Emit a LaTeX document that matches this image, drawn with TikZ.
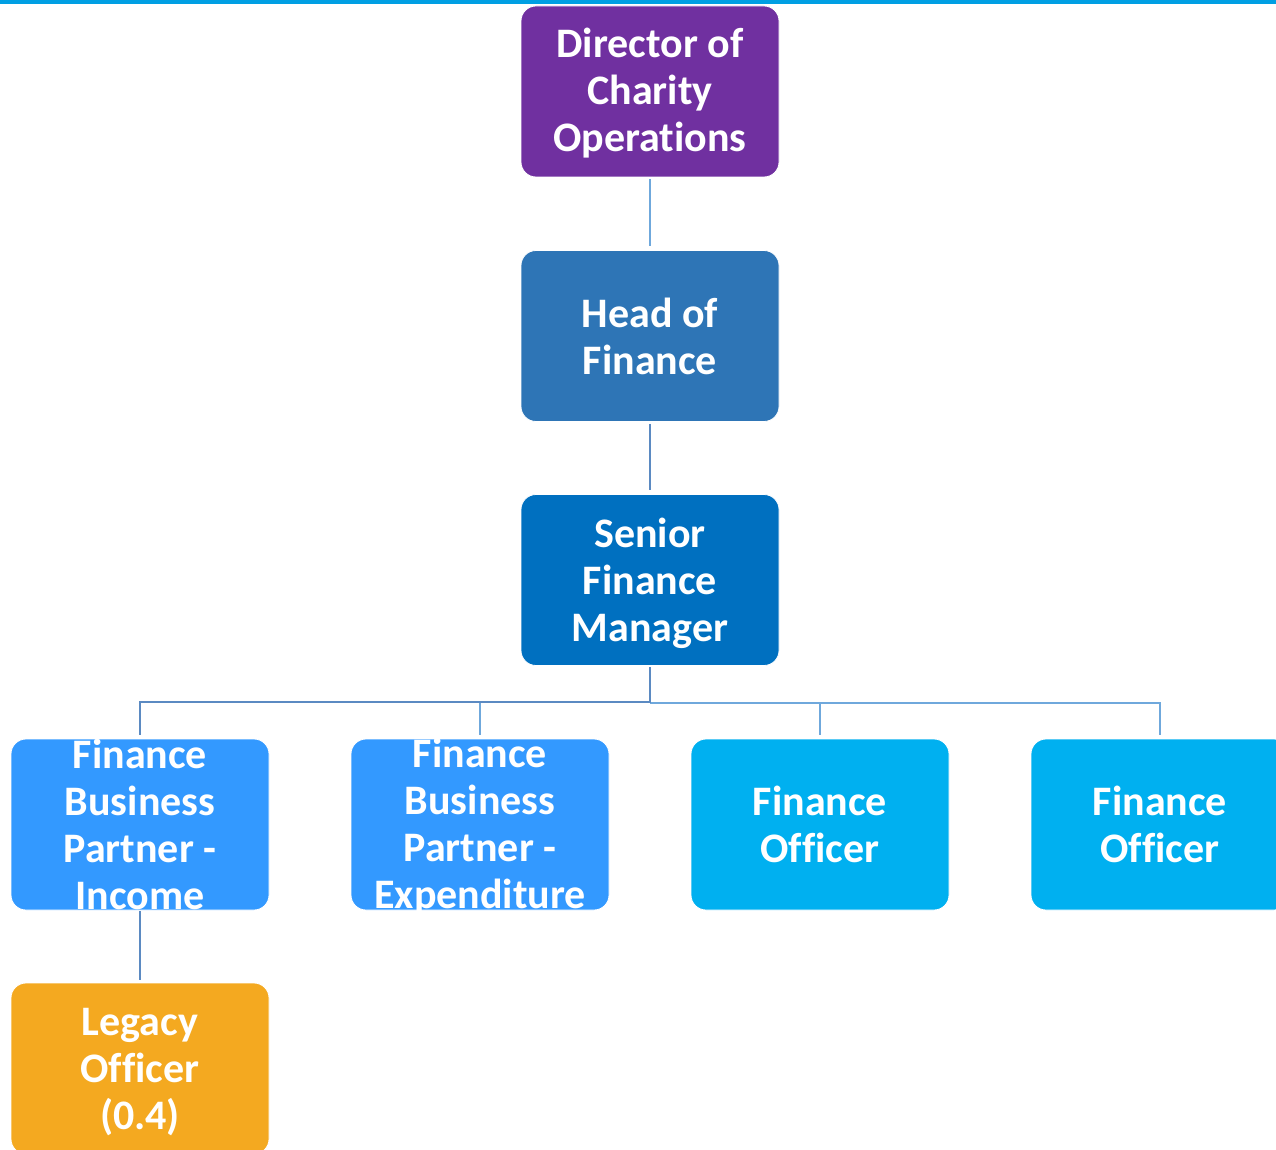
\documentclass[tikz,border=0pt]{standalone}
\usepackage{fontspec}
\setmainfont[Ligatures=NoCommon]{Carlito}
\definecolor{topline}{HTML}{009FE3}
\definecolor{cdir}{HTML}{7030A0}
\definecolor{chead}{HTML}{2E75B6}
\definecolor{csenior}{HTML}{0070C0}
\definecolor{cfbp}{HTML}{3399FF}
\definecolor{cfo}{HTML}{00B0F0}
\definecolor{clegacy}{HTML}{F4A920}
\definecolor{linedark}{HTML}{5B8AC2}
\definecolor{linelight}{HTML}{6FA8DC}
\begin{document}
\begin{tikzpicture}[x=1pt,y=-1pt,
  orgbox/.style={draw=white, line width=0.8pt, rounded corners=15pt, minimum width=258pt, minimum height=171pt, inner sep=0pt},
  orgtext/.style={text=white, font=\bfseries\fontsize{42}{47}\selectfont, align=center, inner sep=0pt},
  darkline/.style={draw=linedark, line width=2.2pt},
  lightline/.style={draw=linelight, line width=1.3pt}]
\useasboundingbox (0,0) rectangle (1276,1150);
\clip (0,0) rectangle (1276,1150);
\fill[topline] (0,0) rectangle (1276,4);
% boxes
\node[orgbox, fill=cdir] (dir) at (650,91.5) {};
\node[orgbox, fill=chead] (head) at (650,336) {};
\node[orgbox, fill=csenior] (senior) at (650,580) {};
\node[orgbox, fill=cfbp] (fbpi) at (140,824.5) {};
\node[orgbox, fill=cfbp] (fbpe) at (480,824.5) {};
\node[orgbox, fill=cfo] (fo1) at (820,824.5) {};
\node[orgbox, fill=cfo] (fo2) at (1160,824.5) {};
\node[orgbox, fill=clegacy] (legacy) at (140,1068.5) {};
% texts
\node[orgtext, yshift=-2pt] (tdir) at (dir) {Director of\\Charity\\Operations};
\node[orgtext] (thead) at (head) {Head of\\Finance};
\node[orgtext, yshift=-3pt] (tsenior) at (senior) {Senior\\Finance\\Manager};
\node[orgtext] (tfbpi) at (fbpi) {Finance\\Business\\Partner -\\Income};
\node[orgtext, yshift=-2pt] (tfbpe) at (fbpe) {Finance\\Business\\Partner -\\Expenditure};
\node[orgtext] (tfo1) at (fo1) {Finance\\Officer};
\node[orgtext] (tfo2) at (fo2) {Finance\\Officer};
\node[orgtext, yshift=-4pt] (tlegacy) at (legacy) {Legacy\\Officer\\(0.4)};
% connectors
\coordinate (bus) at (650,702);
\coordinate (busr) at (650,703);
\draw[lightline, shorten <=2pt, shorten >=4pt] (dir.south) -- (head.north);
\draw[darkline, shorten <=2pt, shorten >=4pt] (head.south) -- (senior.north);
\draw[lightline, shorten >=4pt] (busr) -| (fo2.north);
\draw[lightline, shorten >=4pt] (busr) -| (fo1.north);
\draw[lightline, shorten >=4pt] (bus) -| (fbpe.north);
\draw[darkline, shorten <=1pt, shorten >=4pt] (senior.south) -- (bus) -| (fbpi.north);
\draw[darkline, shorten <=1pt, shorten >=3pt] (fbpi.south) -- (legacy.north);
\end{tikzpicture}
\end{document}
